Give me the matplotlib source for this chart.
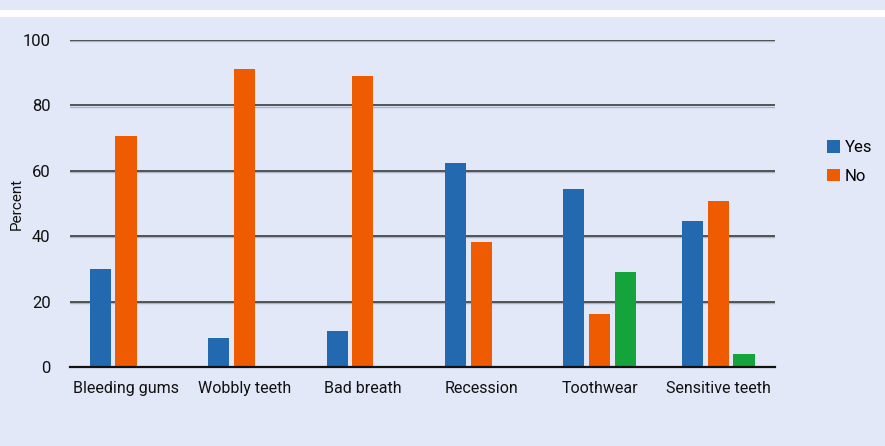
import matplotlib
matplotlib.use("Agg")
import matplotlib.pyplot as plt
import numpy as np

categories = ["Bleeding gums", "Wobbly teeth", "Bad breath", "Recession", "Toothwear", "Sensitive teeth"]
yes_vals = [30, 9, 11, 62.5, 54.5, 44.7]
no_vals = [70.7, 91, 89, 38.3, 16.2, 50.9]
other_vals = [0, 0, 0, 0, 29.2, 4.0]
yticks = [0, 20, 40, 60, 80, 100]

BG = "#E2E8F8"
BLUE = "#2369AF"
ORANGE = "#EE5B00"
GREEN = "#15A33C"

plt.rcParams['font.family'] = ['Roboto', 'DejaVu Sans']

fig = plt.figure(figsize=(8.85, 4.46), dpi=100)
fig.patch.set_facecolor(BG)
# white separator strip near top
fig.add_artist(plt.Rectangle((0, 1 - 16.5 / 446), 1, 6.5 / 446, transform=fig.transFigure,
                             facecolor="white", edgecolor="none", zorder=0))

ax = fig.add_axes([70 / 885, 1 - 367 / 446, (775 - 70) / 885, (367 - 40) / 446])
ax.set_facecolor(BG)

x = np.arange(len(categories))
w = 0.178
off = 0.218
ax.bar(x - off, yes_vals, width=w, color=BLUE, label="Yes", zorder=3)
ax.bar(x, no_vals, width=w, color=ORANGE, label="No", zorder=3)
ax.bar(x + off, other_vals, width=w, color=GREEN, zorder=3)

ax.set_xlim(-0.473, 5.48)
ax.set_ylim(0, 100)
ax.set_yticks(yticks)
ax.set_yticklabels([str(t) for t in yticks], fontsize=12)
ax.set_xticks(x)
ax.set_xticklabels(categories, fontsize=11.5)
ax.tick_params(axis='both', length=0, colors="#111111")
ax.tick_params(axis='y', pad=14)
ax.tick_params(axis='x', pad=10)

for t in yticks[1:]:
    ax.axhline(t - 0.35, color="#AEB4C4", linewidth=1.0, zorder=1)
    ax.axhline(t, color="#3A3A3A", linewidth=1.2, zorder=1)

for s in ["top", "right", "left"]:
    ax.spines[s].set_visible(False)
ax.spines["bottom"].set_color("#111111")
ax.spines["bottom"].set_linewidth(1.6)
ax.spines["bottom"].set_zorder(4)

ax.set_ylabel("Percent", fontsize=11, color="#111111")
ax.yaxis.set_label_coords((24 - 70) / 705, 0.5)

leg = fig.legend(handles=ax.containers[:2], labels=["Yes", "No"], loc="center left",
                 bbox_to_anchor=(812 / 885, 1 - 162 / 446), frameon=False, fontsize=12,
                 handlelength=0.75, handleheight=0.75, handletextpad=0.3, labelspacing=0.8)

fig.savefig("out.png", dpi=100, facecolor=BG)
